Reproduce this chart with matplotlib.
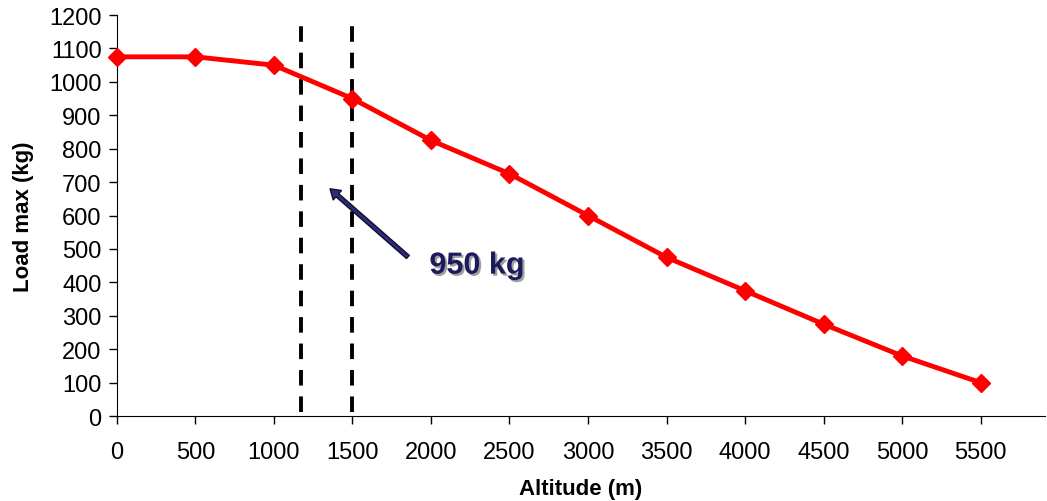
import matplotlib.pyplot as plt
import matplotlib.patheffects as pe

altitude = [0, 500, 1000, 1500, 2000, 2500, 3000, 3500, 4000, 4500, 5000, 5500]
load_max = [1075, 1075, 1050, 950, 825, 725, 600, 475, 375, 275, 180, 100]
x_ticks = [0, 500, 1000, 1500, 2000, 2500, 3000, 3500, 4000, 4500, 5000, 5500]
y_ticks = list(range(0, 1300, 100))
dashed_x = [1170, 1500]

plt.rcParams["font.family"] = ["Liberation Sans", "DejaVu Sans"]

fig = plt.figure(figsize=(10.47, 5.02), dpi=100)
ax = fig.add_axes([0.1117, 0.1693, 0.8863, 0.7987])

ax.plot(
    altitude,
    load_max,
    color="#ff0000",
    linewidth=3.5,
    marker="D",
    markersize=9,
    markeredgecolor="#ff0000",
    clip_on=False,
    zorder=3,
)

for xv in dashed_x:
    ax.axvline(
        xv,
        ymin=0.01,
        ymax=0.99,
        color="black",
        linewidth=2.8,
        linestyle=(0, (4, 2.8)),
    )

ax.annotate(
    "",
    xy=(1357, 680),
    xytext=(1853, 476),
    arrowprops=dict(
        arrowstyle="simple,head_length=0.7,head_width=0.9,tail_width=0.3",
        facecolor="#2b2b85",
        edgecolor="#111122",
        linewidth=1,
        shrinkA=0,
        shrinkB=0,
    ),
)

ax.text(
    1990,
    450,
    "950 kg",
    fontsize=22,
    fontweight="bold",
    color="#1c1c5c",
    va="center",
    path_effects=[
        pe.withSimplePatchShadow(offset=(1.5, -1.5), shadow_rgbFace="#888888", alpha=0.8),
    ],
)

ax.set_xlim(0, 5910)
ax.set_ylim(0, 1200)
ax.set_xticks(x_ticks)
ax.set_yticks(y_ticks)
ax.tick_params(axis="both", labelsize=17, direction="out", length=6, width=1)
ax.tick_params(axis="x", pad=12)
ax.tick_params(axis="y", pad=5)

ax.spines["top"].set_visible(False)
ax.spines["right"].set_visible(False)

ax.set_xlabel("Altitude (m)", fontsize=16, fontweight="bold", labelpad=11)
ax.set_ylabel("Load max (kg)", fontsize=16, fontweight="bold", labelpad=11)

fig.savefig("out.png", dpi=100)
